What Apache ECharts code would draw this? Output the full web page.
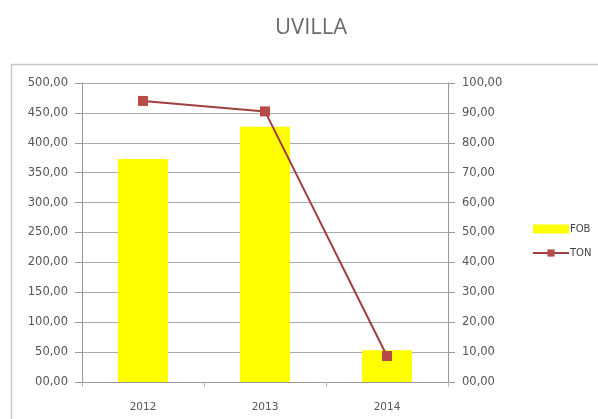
<!DOCTYPE html>
<html>
<head>
<meta charset="utf-8">
<script src="https://cdn.jsdelivr.net/npm/echarts@6/dist/echarts.min.js"></script>
<style>
  html, body { margin: 0; padding: 0; background: #fff; }
  #chart { width: 598px; height: 419px; }
</style>
</head>
<body>
<div id="chart"></div>
<script>
var years = ["2012", "2013", "2014"];
var fobValues = [373, 427, 53];
var tonValues = [94, 90.5, 8.7];

var fmt = function (v) {
  var parts = v.toFixed(2).split(".");
  var intPart = parts[0].length < 2 ? "0" + parts[0] : parts[0];
  return intPart + "," + parts[1];
};

var chart = echarts.init(document.querySelector("#chart"), null, { renderer: "canvas" });

var labelStyle = { color: "#555", fontSize: 11.5, fontFamily: "DejaVu Sans" };

chart.setOption({
  animation: false,
  backgroundColor: "#fff",
  title: {
    text: "UVILLA",
    left: 270,
    top: 12,
    textStyle: { color: "#6a6a6a", fontSize: 22, fontWeight: "normal", fontFamily: "Open Sans" }
  },
  graphic: [
    {
      type: "rect",
      shape: { x: 11.5, y: 64.5, width: 600, height: 400 },
      style: { fill: "none", stroke: "#c8c8c8", lineWidth: 1.5 },
      silent: true
    }
  ],
  legend: {
    orient: "vertical",
    left: 527,
    top: 219,
    itemWidth: 36,
    itemHeight: 9,
    itemGap: 14,
    textStyle: { color: "#444", fontSize: 10, fontFamily: "DejaVu Sans", padding: [0, 0, 0, -4] },
    data: [
      { name: "FOB", icon: "rect" },
      { name: "TON" }
    ]
  },
  grid: { left: 82, right: 150, top: 83, bottom: 37 },
  xAxis: {
    type: "category",
    data: years,
    axisLine: { lineStyle: { color: "#999" } },
    axisTick: { show: true, length: 5, lineStyle: { color: "#bbb" } },
    axisLabel: Object.assign({}, labelStyle, { margin: 20, fontSize: 10.5 })
  },
  yAxis: [
    {
      type: "value",
      min: 0,
      max: 500,
      interval: 50,
      axisLine: { show: true, lineStyle: { color: "#999" } },
      axisTick: { show: true, length: 7, lineStyle: { color: "#999" } },
      splitLine: { lineStyle: { color: "#aaa" } },
      axisLabel: Object.assign({ formatter: fmt, margin: 14 }, labelStyle)
    },
    {
      type: "value",
      min: 0,
      max: 100,
      interval: 10,
      axisLine: { show: true, lineStyle: { color: "#999" } },
      axisTick: { show: true, length: 7, lineStyle: { color: "#999" } },
      splitLine: { show: false },
      axisLabel: Object.assign({ formatter: fmt, margin: 14 }, labelStyle)
    }
  ],
  series: [
    {
      name: "FOB",
      type: "bar",
      data: fobValues,
      barWidth: "41%",
      itemStyle: { color: "#ffff00" }
    },
    {
      name: "TON",
      type: "line",
      yAxisIndex: 1,
      data: tonValues,
      symbol: "rect",
      symbolSize: 10,
      lineStyle: { color: "#a0403e", width: 2 },
      itemStyle: { color: "#b84a47" }
    }
  ]
});
</script>
</body>
</html>
